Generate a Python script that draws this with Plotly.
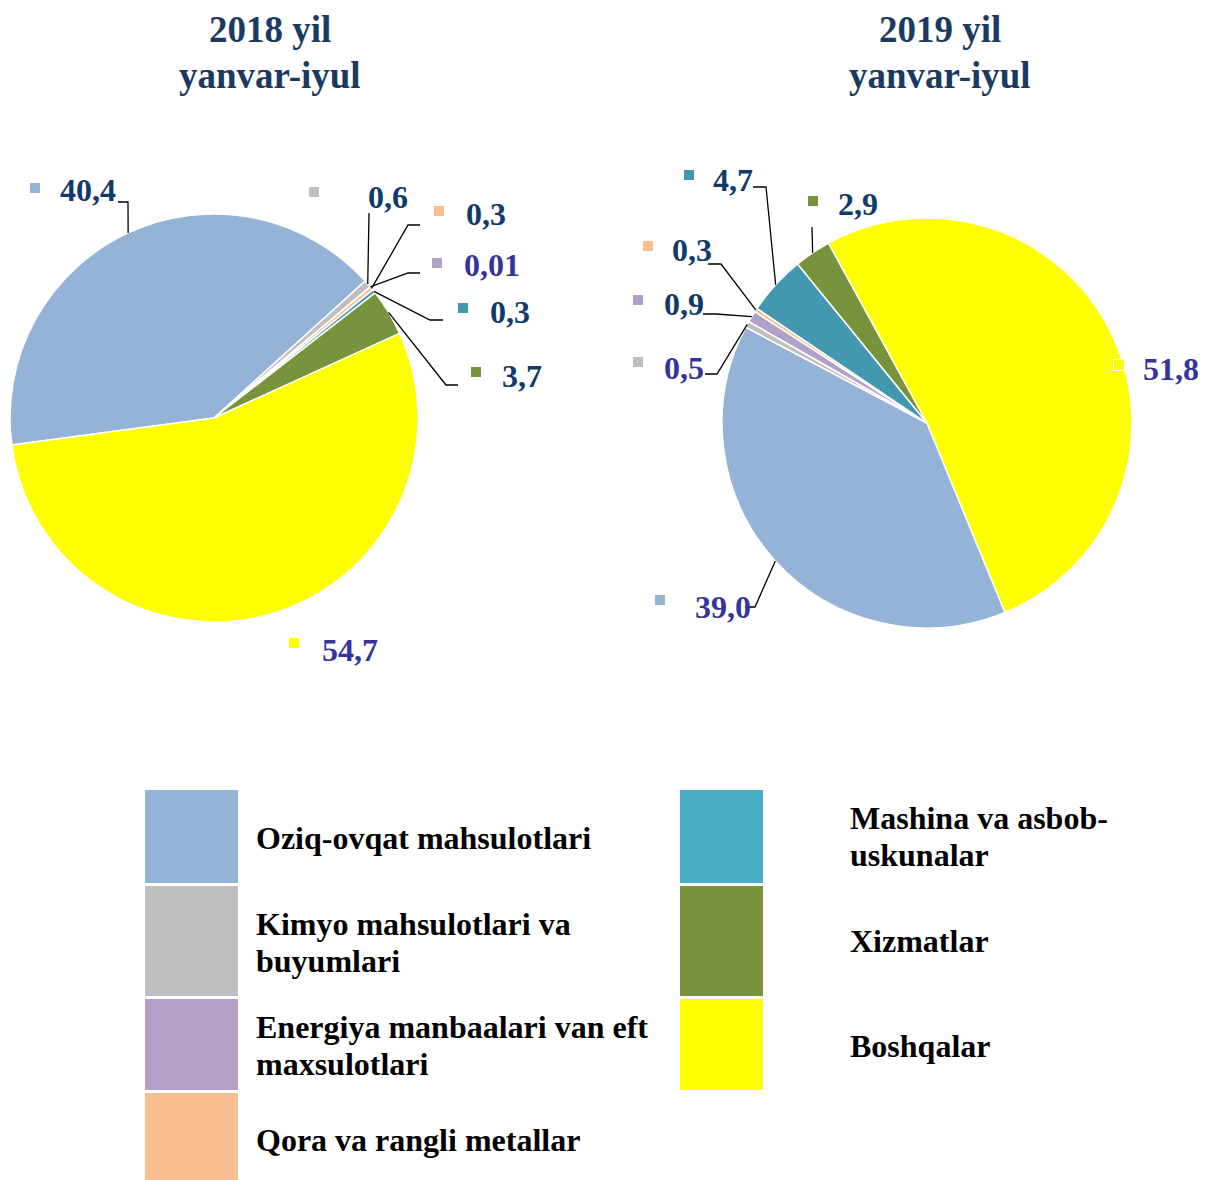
import math
import plotly.graph_objects as go

W, H = 1206, 1180
OFF = 8  # page body margin of the html page
FW, FH = W - OFF, H - OFF

# ---------------- data ----------------
categories = [
    "Oziq-ovqat mahsulotlari",
    "Kimyo mahsulotlari va<br>buyumlari",
    "Energiya manbaalari van eft<br>maxsulotlari",
    "Qora va rangli metallar",
    "Mashina va asbob-<br>uskunalar",
    "Xizmatlar",
    "Boshqalar",
]
values_2018 = [40.4, 0.6, 0.01, 0.3, 0.3, 3.7, 54.7]
values_2019 = [39.0, 0.5, 0.9, 0.3, 4.7, 2.9, 51.8]
titles = ["2018 yil<br>yanvar-iyul", "2019 yil<br>yanvar-iyul"]

# ---------------- styles ----------------
FONT = "Liberation Serif"
pie_colors = ["#95B3D7", "#BFBFBF", "#B1A0C7", "#FABF8F", "#4398AF", "#77933C", "#FFFF00"]
legend_colors = ["#95B3D7", "#BFBFBF", "#B1A0C7", "#F8C090", "#4BACC6", "#77933C", "#FFFF00"]
NAVY = "#0F3A6A"
PB = "#35349B"
TITLE_C = "#1B3A62"


def fmt(v):
    s = f"{v:.2f}" if v < 0.1 else f"{v:.1f}"
    return s.replace(".", ",")


def px(x):
    return (x - OFF) / FW


def py(y):
    return 1 - (y - OFF) / FH


# pie geometry (pixels): centre, radius, rotation (deg clockwise from 12 o'clock)
pies = [
    dict(values=values_2018, cx=214, cy=418, r=204, rot=262.4, title_x=270),
    dict(values=values_2019, cx=927, cy=423, r=205, rot=157.6, title_x=940),
]

# label layout per category: square centre, text left/centre-y, elbow, end, colour
label_layout = [
    [
        dict(sq=(35, 188), tx=(58, 190), elbow=(128, 202), end=(118, 202), c=NAVY),
        dict(sq=(314, 192), tx=(366, 197), elbow=(369, 213), end=(369, 213), c=NAVY),
        dict(sq=(437, 263), tx=(462, 265), elbow=(408, 273), end=(420, 273), c=PB),
        dict(sq=(439, 211), tx=(464, 214), elbow=(408, 225), end=(420, 225), c=NAVY),
        dict(sq=(463, 308), tx=(488, 312), elbow=(430, 320), end=(443, 320), c=NAVY),
        dict(sq=(476, 372), tx=(500, 376), elbow=(446, 385), end=(458, 385), c=NAVY),
        dict(sq=(294, 643), tx=(320, 650), elbow=None, end=None, c=PB),
    ],
    [
        dict(sq=(660, 600), tx=(693, 607), elbow=(755, 607), end=(745, 607), c=PB),
        dict(sq=(638, 362), tx=(662, 368), elbow=(717, 374), end=(705, 374), c=PB),
        dict(sq=(638, 300), tx=(662, 304), elbow=(716, 314), end=(703, 314), c=NAVY),
        dict(sq=(648, 246), tx=(670, 250), elbow=(721, 264), end=(708, 264), c=NAVY),
        dict(sq=(689, 175), tx=(711, 180), elbow=(766, 187), end=(753, 187), c=NAVY),
        dict(sq=(813, 201), tx=(836, 204), elbow=(812, 227), end=(812, 227), c=NAVY),
        dict(sq=(1119, 365), tx=(1141, 369), elbow=None, end=None, c=PB),
    ],
]

# legend layout: box (x0, y0, x1, y1) and text (x, first line y)
legend_layout = [
    dict(box=(145, 790, 238, 883), tx=(254, 838)),
    dict(box=(145, 886, 238, 996), tx=(254, 924)),
    dict(box=(145, 999, 238, 1090), tx=(254, 1027)),
    dict(box=(145, 1093, 238, 1180), tx=(254, 1140)),
    dict(box=(680, 790, 763, 883), tx=(848, 818)),
    dict(box=(680, 886, 763, 996), tx=(848, 941)),
    dict(box=(680, 999, 763, 1090), tx=(848, 1046)),
]
LINE_GAP = 37

fig = go.Figure()
shapes = []
annotations = []

for k, p in enumerate(pies):
    cx, cy, r = p["cx"], p["cy"], p["r"]
    fig.add_trace(go.Pie(
        labels=categories,
        values=p["values"],
        sort=False,
        direction="clockwise",
        rotation=p["rot"],
        marker=dict(colors=pie_colors, line=dict(color="white", width=1.5)),
        textinfo="none",
        hoverinfo="label+value",
        showlegend=False,
        domain=dict(x=[px(cx - r), px(cx + r)], y=[py(cy + r), py(cy - r)]),
    ))

    total = sum(p["values"])
    acc = 0.0
    for i, v in enumerate(p["values"]):
        mid = p["rot"] + (acc + v / 2) / total * 360.0
        acc += v
        a = math.radians(mid)
        sx = cx + r * math.sin(a)
        sy = cy - r * math.cos(a)
        L = label_layout[k][i]
        if L["elbow"] is not None:
            ex, ey = L["elbow"]
            nx, ny = L["end"]
            shapes.append(dict(
                type="path", xref="paper", yref="paper",
                path=f"M {px(sx)},{py(sy)} L {px(ex)},{py(ey)} L {px(nx)},{py(ny)}",
                line=dict(color="black", width=1.3),
            ))
        qx, qy = L["sq"]
        shapes.append(dict(
            type="rect", xref="paper", yref="paper",
            x0=px(qx - 5.5), x1=px(qx + 5.5), y0=py(qy + 5.5), y1=py(qy - 5.5),
            fillcolor=pie_colors[i], line=dict(color="white", width=1),
        ))
        tx, ty = L["tx"]
        annotations.append(dict(
            x=px(tx), y=py(ty), xref="paper", yref="paper",
            xanchor="left", yanchor="middle", showarrow=False,
            text=f"<b>{fmt(v)}</b>",
            font=dict(family=FONT, size=32, color=L["c"]),
        ))

    # title
    for j, line in enumerate(titles[k].split("<br>")):
        annotations.append(dict(
            x=px(p["title_x"]), y=py(30 + j * 45), xref="paper", yref="paper",
            xanchor="center", yanchor="middle", showarrow=False,
            text=f"<b>{line}</b>",
            font=dict(family=FONT, size=37, color=TITLE_C),
        ))

# legend
for i, name in enumerate(categories):
    Lg = legend_layout[i]
    x0, y0, x1, y1 = Lg["box"]
    shapes.append(dict(
        type="rect", xref="paper", yref="paper",
        x0=px(x0), x1=px(x1), y0=py(y1), y1=py(y0),
        fillcolor=legend_colors[i], line=dict(width=0),
    ))
    tx, ty = Lg["tx"]
    for j, line in enumerate(name.split("<br>")):
        annotations.append(dict(
            x=px(tx), y=py(ty + j * LINE_GAP), xref="paper", yref="paper",
            xanchor="left", yanchor="middle", showarrow=False,
            text=f"<b>{line}</b>",
            font=dict(family=FONT, size=32, color="black"),
        ))

fig.update_layout(
    width=FW, height=FH,
    margin=dict(l=0, r=0, t=0, b=0),
    paper_bgcolor="white", plot_bgcolor="white",
    shapes=shapes, annotations=annotations,
    showlegend=False,
)

fig.write_html("out.html")
